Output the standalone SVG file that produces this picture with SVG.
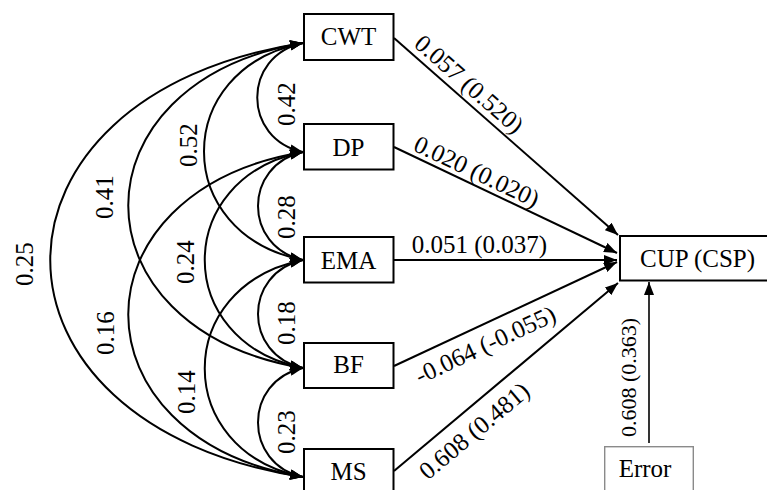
<svg xmlns="http://www.w3.org/2000/svg" width="767" height="490" viewBox="0 0 767 490">
<style>
  text { font-family: "Liberation Serif", "Times New Roman", serif; fill: #000; }
  .node rect { fill: #fff; stroke: #000; stroke-width: 2; }
  .node text { font-size: 25px; text-anchor: middle; }
  .err rect { fill: #fff; stroke: #8a8a8a; stroke-width: 1.4; }
  .conn path { fill: none; stroke: #000; stroke-width: 2; }
  .cor { marker-start: url(#ah); marker-end: url(#ah); }
  .dir { marker-end: url(#ah); }
  .lbl { font-size: 25px; text-anchor: middle; }
</style>
<defs>
  <marker id="ah" markerUnits="userSpaceOnUse" markerWidth="13" markerHeight="10" refX="13" refY="5" orient="auto-start-reverse">
    <path d="M0,0 L13,5 L0,10 z" fill="#000"/>
  </marker>
</defs>
<rect width="767" height="490" fill="#fff"/>

<g id="connectors" class="conn">
  <!-- correlations -->
  <path class="cor" d="M303,43 C242,56 242,139 303,152"/>
  <path class="cor" d="M303,152 C243,165 243,247 303,260"/>
  <path class="cor" d="M303,260 C243,273 243,355 303,368"/>
  <path class="cor" d="M303,368 C243,381 243,464 303,477"/>
  <path class="cor" d="M303,43 C171,69 171,234 303,260"/>
  <path class="cor" d="M303,152 C172,178 172,342 303,368"/>
  <path class="cor" d="M303,260 C172,286 172,451 303,477"/>
  <path class="cor" d="M303,43 C70,82 70,329 303,368"/>
  <path class="cor" d="M303,152 C70,191 70,438 303,477"/>
  <path class="cor" d="M303,43 C-34,95 -34,425 303,477"/>
  <!-- paths to CUP -->
  <path class="dir" d="M394,38 L618,235"/>
  <path class="dir" d="M394,147 L617,253"/>
  <path class="dir" d="M394,260 L617,260"/>
  <path class="dir" d="M394,366 L617,262"/>
  <path class="dir" d="M394,471 L618,283"/>
  <path class="dir" d="M649,443 L649,282" style="stroke-width:1.6"/>
</g>

<g id="labels">
  <text class="lbl" x="294.5" y="104" transform="rotate(-90 294.5 104)">0.42</text>
  <text class="lbl" x="294.5" y="217" transform="rotate(-90 294.5 217)">0.28</text>
  <text class="lbl" x="294.5" y="323" transform="rotate(-90 294.5 323)">0.18</text>
  <text class="lbl" x="294.5" y="432" transform="rotate(-90 294.5 432)">0.23</text>
  <text class="lbl" x="196.5" y="145" transform="rotate(-90 196.5 145)">0.52</text>
  <text class="lbl" x="193.5" y="262" transform="rotate(-90 193.5 262)">0.24</text>
  <text class="lbl" x="195" y="392" transform="rotate(-90 195 392)">0.14</text>
  <text class="lbl" x="113" y="197" transform="rotate(-90 113 197)">0.41</text>
  <text class="lbl" x="113.5" y="333" transform="rotate(-90 113.5 333)">0.16</text>
  <text class="lbl" x="33" y="264" transform="rotate(-90 33 264)">0.25</text>
  <text class="lbl" x="463.7" y="90.4" transform="rotate(41.3 463.7 90.4)">0.057 (0.520)</text>
  <text class="lbl" x="473.2" y="179" transform="rotate(25.4 473.2 179)">0.020 (0.020)</text>
  <text class="lbl" x="479.5" y="253">0.051 (0.037)</text>
  <text class="lbl" x="488.8" y="352.3" transform="rotate(-25 488.8 352.3)">-0.064 (-0.055)</text>
  <text class="lbl" x="479.6" y="437.2" transform="rotate(-40 479.6 437.2)">0.608 (0.481)</text>
  <text class="lbl" x="636" y="377.5" transform="rotate(-90 636 377.5)" style="font-size:22px">0.608 (0.363)</text>
</g>

<g id="CWT" class="node"><rect x="304" y="14" width="89.5" height="46"/><text x="348.5" y="45">CWT</text></g>
<g id="DP" class="node"><rect x="304" y="124" width="89.5" height="45.5"/><text x="348.5" y="155.7">DP</text></g>
<g id="EMA" class="node"><rect x="304" y="237" width="89.5" height="45.5"/><text x="348.5" y="269.3">EMA</text></g>
<g id="BF" class="node"><rect x="304" y="343" width="89.5" height="45"/><text x="348.5" y="373.3">BF</text></g>
<g id="MS" class="node"><rect x="304" y="449" width="89.5" height="46"/><text x="348.5" y="480">MS</text></g>
<g id="CUP" class="node"><rect x="620" y="236" width="160" height="44.5"/><text x="697.5" y="266.7">CUP (CSP)</text></g>
<g id="Error" class="node err"><rect x="604.7" y="446.7" width="88.6" height="50"/><text x="645" y="476.7">Error</text></g>
</svg>
